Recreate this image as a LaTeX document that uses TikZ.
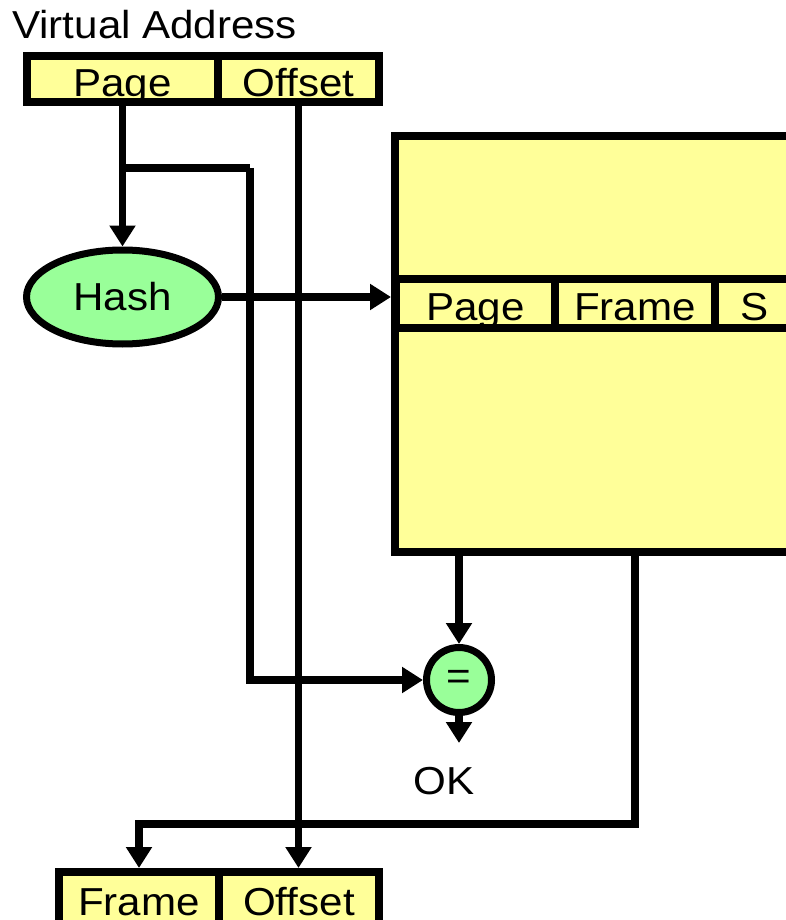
\documentclass[tikz,border=0pt]{standalone}
\usepackage{fontspec}
\setmainfont[FakeStretch=1.08]{Liberation Sans}
\definecolor{ptyellow}{HTML}{FFFF99}
\definecolor{ptgreen}{HTML}{99FF99}
\usetikzlibrary{arrows.meta,positioning,shapes.geometric}

\begin{document}
\begin{tikzpicture}[x=1pt,y=-1pt,
    font=\fontsize{39}{46}\selectfont,
    cell/.style={draw,fill=ptyellow,line width=8pt,inner sep=0pt,outer sep=0pt,
      minimum height=46pt,text height=41pt,text depth=5pt},
    wire/.style={line width=7.5pt},
    arr/.style={wire,-{Triangle[length=21pt,width=25pt]}},
    op/.style={draw,fill=ptgreen,line width=7pt,inner sep=0pt}]
  \useasboundingbox (0,0) rectangle (786,920);
  \clip (0,0) rectangle (786,920);
  % virtual address
  \node[anchor=base west,inner sep=0pt] (valabel) at (12,39) {Virtual Address};
  \node[cell,minimum width=191pt] (vaPage) at (122.5,79) {Page};
  \node[cell,minimum width=161pt,right=0pt of vaPage] (vaOffset) {Offset};
  % hashed page table
  \node[draw,fill=ptyellow,line width=8pt,minimum width=505pt,minimum height=416pt,
    inner sep=0pt] (tbl) at (647.5,344) {};
  \node[cell,minimum width=159pt,minimum height=49pt,text depth=8pt] (tPage) at (475.5,303.5) {Page};
  \node[cell,minimum width=160pt,minimum height=49pt,text depth=8pt,right=0pt of tPage] (tFrame) {Frame};
  \node[cell,minimum width=80pt,minimum height=49pt,text depth=8pt,right=0pt of tFrame] (tS) {S};
  % hash and compare
  \node[op,ellipse,minimum width=192pt,minimum height=94pt] (hash) at (122.5,297) {Hash};
  \node[op,circle,minimum size=65pt] (eq) at (459,680) {=};
  \node[inner sep=0pt,anchor=base] (ok) at (444,794) {OK};
  % physical address
  \node[cell,minimum width=160pt,minimum height=63pt,text height=43pt,text depth=20pt] (paFrame) at (139,903.5) {Frame};
  \node[cell,minimum width=160pt,minimum height=63pt,text height=43pt,text depth=20pt,right=0pt of paFrame] (paOffset) {Offset};
  % wires
  \coordinate (split) at (122.5,168);
  \coordinate (bend) at (250,168);
  \coordinate (okarr) at (459,743);
  \coordinate (corner) at (635,824);
  \draw[arr] (vaPage.south) -- (hash.north);
  \draw[wire] (split) -- (bend);
  \draw[arr] (bend) |- (eq);
  \draw[arr,shorten >=4pt] (vaOffset.south) -- (vaOffset.south |- paOffset.north);
  \draw[arr] (hash.east) -- (hash -| tbl.west);
  \draw[arr] (tbl.south -| eq) -- (eq);
  \draw[arr] (eq) -- (okarr);
  \draw[arr,shorten >=4pt] (tbl.south -| corner) -- (corner) -| (paFrame.north);
\end{tikzpicture}
\end{document}
